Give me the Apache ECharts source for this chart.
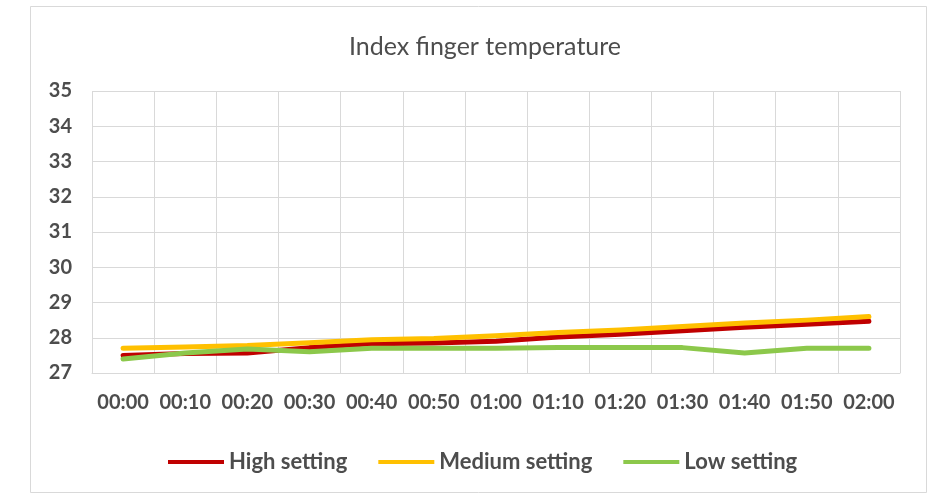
<!DOCTYPE html>
<html>
<head>
<meta charset="utf-8">
<script src="https://cdn.jsdelivr.net/npm/echarts@6/dist/echarts.min.js"></script>
<style>
  html, body { margin: 0; padding: 0; background: #ffffff; }
  #chart { width: 944px; height: 495px; }
</style>
</head>
<body>
<div id="chart"></div>
<script>
// Time of measurement (every 10 minutes)
const times = ['00:00', '00:10', '00:20', '00:30', '00:40', '00:50', '01:00',
               '01:10', '01:20', '01:30', '01:40', '01:50', '02:00'];

// Index finger temperature (°C) per heater setting
const highSetting   = [27.50, 27.55, 27.57, 27.72, 27.83, 27.85, 27.90, 28.02, 28.10, 28.20, 28.30, 28.38, 28.47];
const mediumSetting = [27.70, 27.74, 27.78, 27.86, 27.94, 27.98, 28.06, 28.15, 28.22, 28.32, 28.42, 28.50, 28.60];
const lowSetting    = [27.40, 27.57, 27.68, 27.60, 27.70, 27.70, 27.70, 27.72, 27.72, 27.72, 27.57, 27.70, 27.70];

const seriesNames = ['High setting', 'Medium setting', 'Low setting'];
const seriesColors = ['#C00000', '#FFC000', '#8CC84B'];

const FONT = 'Lato, "Open Sans", sans-serif';
const TEXT = '#4D4D4D';
const GRIDLINE = '#D9D9D9';

const chart = echarts.init(document.getElementById('chart'), null, { renderer: 'canvas' });

const lineSeries = [highSetting, mediumSetting, lowSetting].map((values, i) => ({
  name: seriesNames[i],
  type: 'line',
  data: values,
  showSymbol: false,
  symbol: 'none',
  smooth: false,
  color: seriesColors[i],
  lineStyle: { width: 5, color: seriesColors[i], cap: 'round', join: 'round' },
  z: 2 + i
}));

chart.setOption({
  animation: false,
  backgroundColor: '#ffffff',
  graphic: [{
    type: 'rect',
    shape: { x: 30.5, y: 6.5, width: 896, height: 486 },
    style: { fill: 'none', stroke: GRIDLINE, lineWidth: 1 },
    silent: true,
    z: -1
  }],
  title: {
    text: 'Index finger temperature',
    left: 480,
    top: 29,
    textAlign: 'center',
    textStyle: { fontFamily: FONT, fontSize: 25, fontWeight: 'normal', color: TEXT }
  },
  legend: {
    data: seriesNames,
    left: 163,
    top: 446,
    icon: 'rect',
    itemWidth: 56,
    itemHeight: 4,
    itemGap: 31,
    textStyle: { fontFamily: FONT, fontSize: 22, fontWeight: 'bold', color: TEXT }
  },
  grid: { left: 92, right: 44, top: 91, bottom: 122, containLabel: false },
  xAxis: {
    type: 'category',
    data: times,
    boundaryGap: true,
    axisLine: { show: true, lineStyle: { color: GRIDLINE, width: 1 } },
    axisTick: { show: false },
    splitLine: { show: true, interval: 0, lineStyle: { color: GRIDLINE, width: 1 } },
    axisLabel: { interval: 0, margin: 20, fontFamily: FONT, fontSize: 20, fontWeight: 'bold', color: TEXT }
  },
  yAxis: {
    type: 'value',
    min: 27,
    max: 35,
    interval: 1,
    axisLine: { show: false },
    axisTick: { show: false },
    splitLine: { show: true, lineStyle: { color: GRIDLINE, width: 1 } },
    axisLabel: { margin: 20, fontFamily: FONT, fontSize: 20, fontWeight: 'bold', color: TEXT }
  },
  series: lineSeries
});
</script>
</body>
</html>
